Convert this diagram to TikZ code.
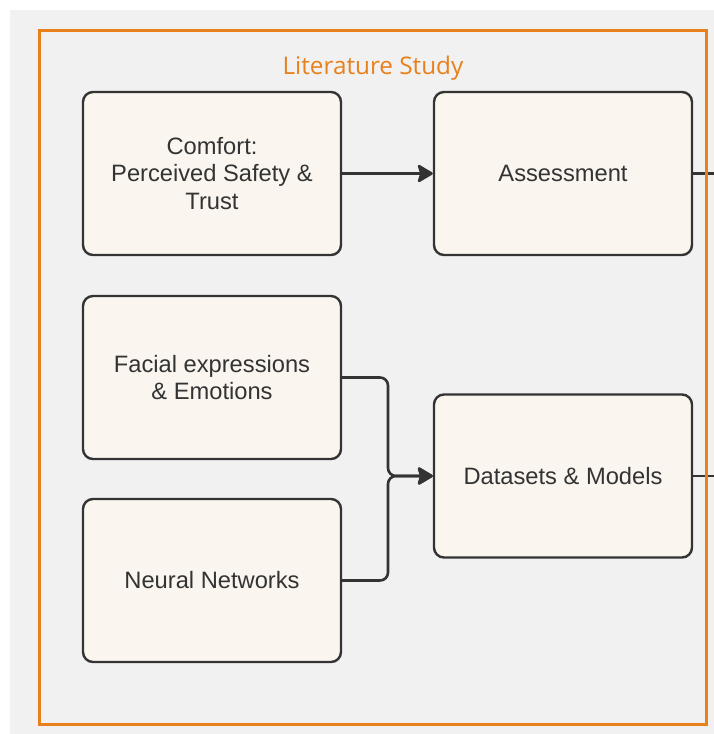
\documentclass[tikz,border=0pt]{standalone}
\usepackage{fontspec}
\setmainfont{Liberation Sans}
\newfontfamily\titlefont{Open Sans}
\usetikzlibrary{arrows.meta}
\definecolor{bggray}{HTML}{F1F1F1}
\definecolor{boxfill}{HTML}{FAF6EF}
\definecolor{ink}{HTML}{333333}
\definecolor{orng}{HTML}{E8801C}
\tikzset{
  box/.style={draw=ink, fill=boxfill, line width=2.4pt, rounded corners=10pt,
    minimum width=258pt, minimum height=163pt, align=center, inner sep=0pt,
    text=ink, font=\fontsize{23.7}{27.5}\selectfont},
  conn/.style={draw=ink, line width=2.6pt, rounded corners=8pt},
  arr/.style={conn, -{Stealth[length=17pt,width=20pt,inset=3pt,round]}},
  frame/.style={draw=orng, line width=3pt},
}
\begin{document}
\begin{tikzpicture}[x=1pt,y=-1pt]
\useasboundingbox (0,0) rectangle (714,734);
\fill[white] (0,0) rectangle (714,734);
\fill[bggray] (10,10) rectangle (714,734);
\node[box] (b1) at (212,173.5) {Comfort:\\Perceived Safety \&\\Trust};
\node[box] (b2) at (563,173.5) {Assessment};
\node[box] (b3) at (212,377.5) {Facial expressions\\\& Emotions};
\node[box] (b4) at (563,476) {Datasets \& Models};
\node[box] (b5) at (212,580.5) {Neural Networks};
\coordinate (j) at (388,476);
\coordinate (e1) at (716,173.5);
\coordinate (e2) at (716,476);
\draw[arr] (b1.east) -- (b2.west);
\draw[arr] (b3.east) -| (j) -- (b4.west);
\draw[arr] (b5.east) -| (j) -- (b4.west);
\draw[conn] (b2.east) -- (e1);
\draw[conn] (b4.east) -- (e2);
\draw[frame] (39,30) rectangle (706,724);
\node[text=orng, font=\titlefont\fontsize{24.3}{27}\selectfont] (t) at (373,68.5) {Literature Study};
\end{tikzpicture}
\end{document}
